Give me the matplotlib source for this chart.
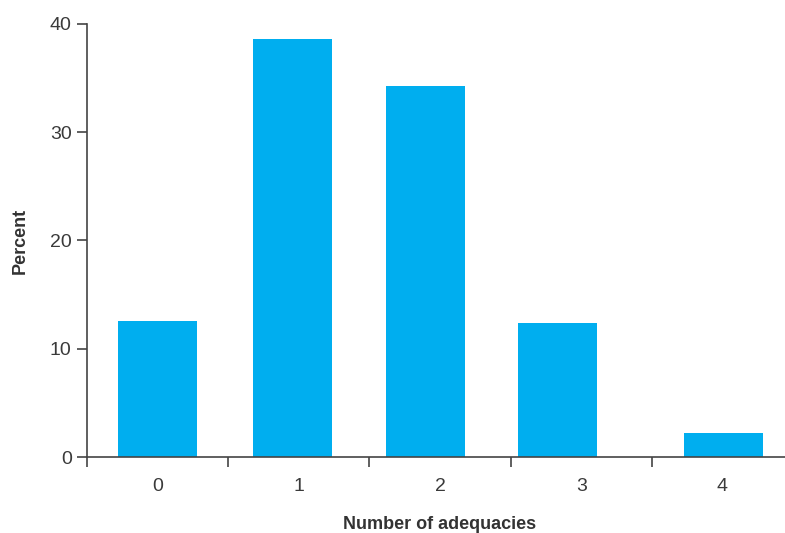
import matplotlib
matplotlib.use("Agg")
import matplotlib.pyplot as plt
from matplotlib.ticker import FixedLocator, NullFormatter, FixedFormatter

# Share of respondents by number of adequacies
categories = ["0", "1", "2", "3", "4"]
percent = [12.6, 38.6, 34.3, 12.4, 2.2]

# Bar centres within each category slot
bar_pos = [0.0, 0.957, 1.90, 2.835, 4.01]
bar_width = 0.56

text_color = "#3a3a3a"
bar_color = "#00AEEF"

plt.rcParams["font.family"] = ["Liberation Sans", "DejaVu Sans"]

fig = plt.figure(figsize=(7.85, 5.33), dpi=100)
ax = fig.add_axes([87 / 785, 1 - 457 / 533, 706 / 785, 433 / 533])

ax.bar(bar_pos, percent, width=bar_width, color=bar_color, zorder=2)

ax.set_xlim(-0.5, 4.5)
ax.set_ylim(0, 40)

for side in ("top", "right"):
    ax.spines[side].set_visible(False)
for side in ("left", "bottom"):
    ax.spines[side].set_color("#444444")
    ax.spines[side].set_linewidth(1.2)

ax.set_yticks([0, 10, 20, 30, 40])
ax.tick_params(axis="y", direction="out", length=7, width=1.2, color="#444444",
               labelsize=14, labelcolor=text_color, pad=4)

# separator ticks between categories, labels centred in each slot
ax.xaxis.set_major_locator(FixedLocator([-0.5, 0.5, 1.5, 2.5, 3.5]))
ax.xaxis.set_major_formatter(NullFormatter())
ax.xaxis.set_minor_locator(FixedLocator(range(len(categories))))
ax.xaxis.set_minor_formatter(FixedFormatter(categories))
ax.tick_params(axis="x", which="major", direction="out", length=7, width=1.2,
               color="#444444")
ax.tick_params(axis="x", which="minor", length=0, labelsize=14,
               labelcolor=text_color, pad=15)

ax.set_xlabel("Number of adequacies", fontsize=13, fontweight="bold",
              color="#333333", labelpad=15)
ax.set_ylabel("Percent", fontsize=13, fontweight="bold", color="#333333",
              labelpad=15)

fig.savefig("out.png", dpi=100)
